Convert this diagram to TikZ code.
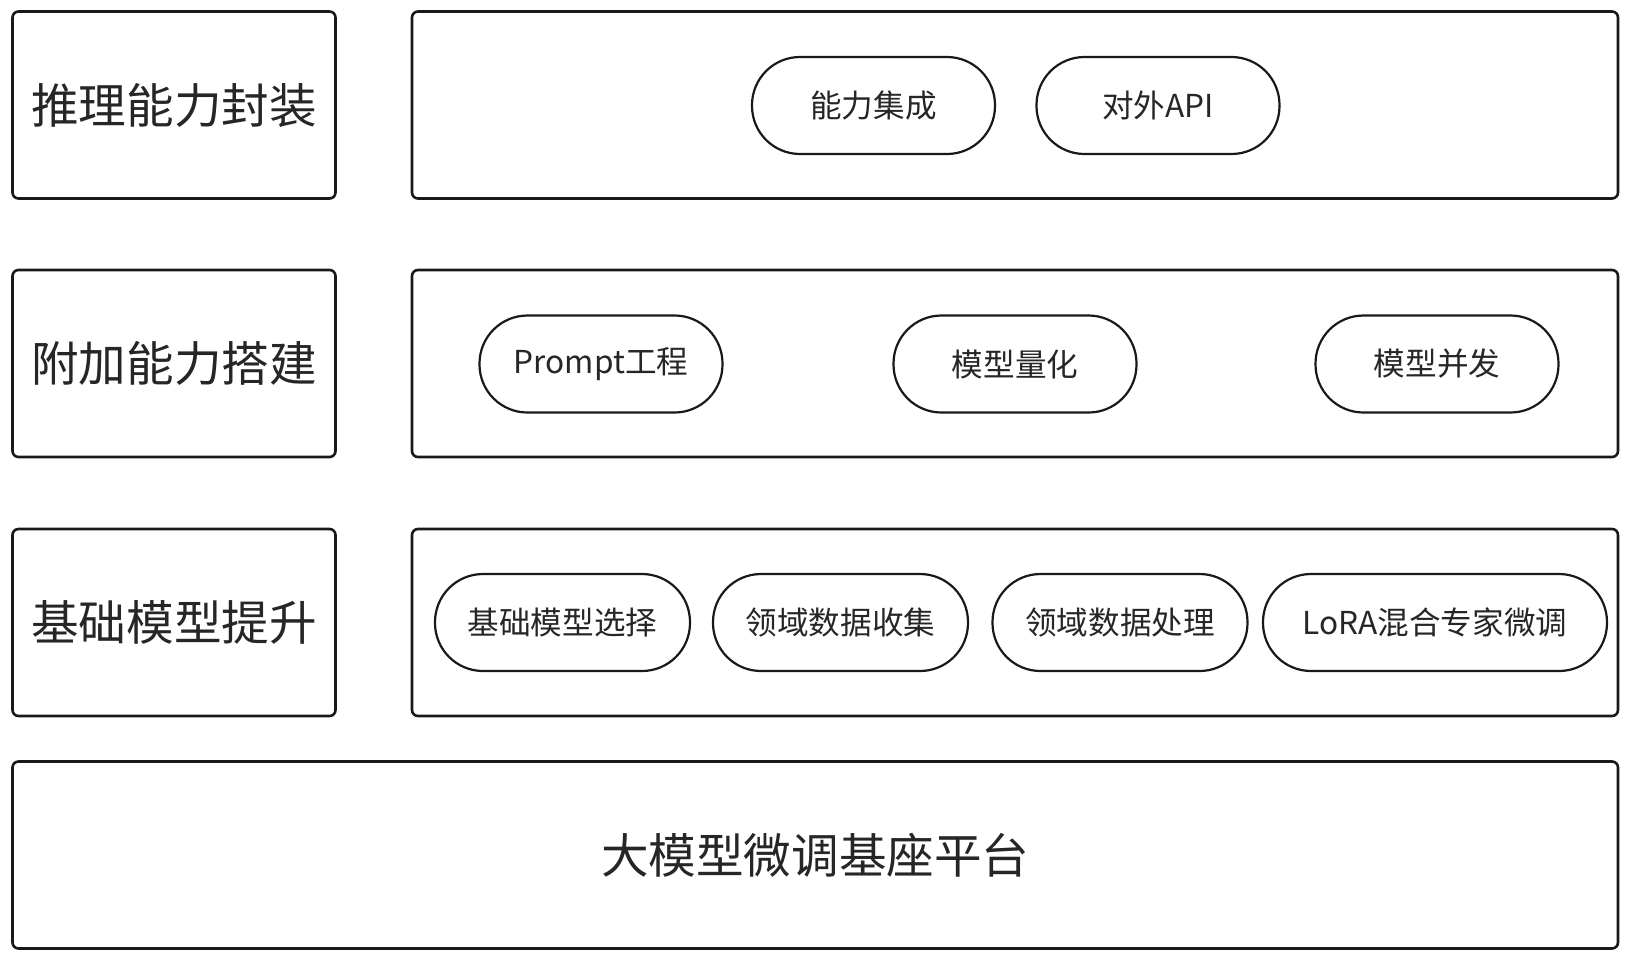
\documentclass[tikz,border=0pt]{standalone}
\usepackage{fontspec}
\setmainfont{Noto Sans CJK SC}
\begin{document}
\begin{tikzpicture}[x=0.5pt, y=-0.5pt,
        layerbox/.style={draw=black!90, line width=1.3pt, rounded corners=3pt, inner sep=0pt},
        titlebox/.style={layerbox, minimum width=161.5pt, minimum height=93.5pt, text=black!85, font=\fontsize{23.8}{28}\selectfont},
        pill/.style={draw=black!90, line width=1.1pt, rounded corners=24pt, minimum height=48.5pt, inner sep=0pt, text=black!85, font=\fontsize{15.8}{19}\selectfont}]
        \useasboundingbox (0, 0) rectangle (1628, 960);

        % layer titles on the left
        \node[titlebox] (wrap) at (174, 105) {推理能力封装};
        \node[titlebox] (extra) at (174, 363.5) {附加能力搭建};
        \node[titlebox] (base) at (174, 622.5) {基础模型提升};

        % layer contents on the right
        \node[layerbox, minimum width=603pt, minimum height=93.5pt] (wrapbody) at (1015, 105) {};
        \node[layerbox, minimum width=603pt, minimum height=93.5pt] (extrabody) at (1015, 363.5) {};
        \node[layerbox, minimum width=603pt, minimum height=93.5pt] (basebody) at (1015, 622.5) {};

        % platform at the bottom
        \node[titlebox, minimum width=802.75pt] (platform) at (815.25, 855) {大模型微调基座平台};

        % capabilities in the top layer
        \node[pill, minimum width=121.5pt] (integrate) at (873.5, 105.5) {能力集成};
        \node[pill, minimum width=121.5pt] (api) at (1158, 105.5) {对外API};

        % capabilities in the middle layer
        \node[pill, minimum width=121.5pt] (prompt) at (601, 364) {Prompt工程};
        \node[pill, minimum width=121.5pt] (quant) at (1015, 364) {模型量化};
        \node[pill, minimum width=121.5pt] (concur) at (1437, 364) {模型并发};

        % steps in the base layer
        \node[pill, minimum width=127.5pt] (select) at (562.5, 622.5) {基础模型选择};
        \node[pill, minimum width=127.5pt] (collect) at (840.5, 622.5) {领域数据收集};
        \node[pill, minimum width=127.5pt] (process) at (1120, 622.5) {领域数据处理};
        \node[pill, minimum width=172pt] (lora) at (1435, 622.5) {LoRA混合专家微调};
    \end{tikzpicture}
\end{document}
